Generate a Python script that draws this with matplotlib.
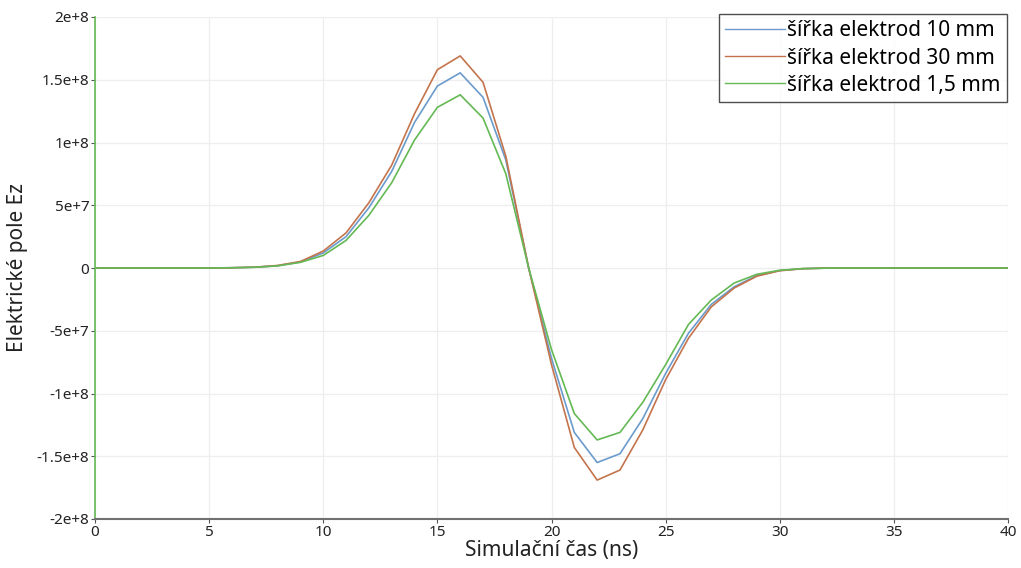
import matplotlib
matplotlib.use("Agg")
import matplotlib.pyplot as plt
import numpy as np

time_ns = list(range(0, 41))
# values in units of 1e8
w10 = [0, 0, 0, 0, 0, 0, 0.002, 0.006, 0.018, 0.048, 0.12, 0.25, 0.48, 0.77, 1.16, 1.45, 1.555, 1.36, 0.86, 0.0,
       -0.72, -1.31, -1.55, -1.48, -1.20, -0.84, -0.52, -0.29, -0.15, -0.06, -0.02, -0.005, -0.001,
       0, 0, 0, 0, 0, 0, 0, 0]
w30 = [0, 0, 0, 0, 0, 0, 0.002, 0.007, 0.02, 0.052, 0.135, 0.28, 0.52, 0.82, 1.23, 1.58, 1.69, 1.48, 0.89, 0.0,
       -0.77, -1.43, -1.69, -1.61, -1.29, -0.89, -0.56, -0.31, -0.16, -0.065, -0.022, -0.006, -0.001,
       0, 0, 0, 0, 0, 0, 0, 0]
w15 = [0, 0, 0, 0, 0, 0, 0.002, 0.006, 0.017, 0.045, 0.10, 0.22, 0.42, 0.68, 1.02, 1.28, 1.38, 1.195, 0.75, 0.0,
       -0.65, -1.16, -1.37, -1.31, -1.07, -0.77, -0.45, -0.255, -0.12, -0.05, -0.018, -0.005, -0.001,
       0, 0, 0, 0, 0, 0, 0, 0]
labels = ["šířka elektrod 10 mm", "šířka elektrod 30 mm", "šířka elektrod 1,5 mm"]
xticks = [0, 5, 10, 15, 20, 25, 30, 35, 40]
yticks = [-2e8, -1.5e8, -1e8, -5e7, 0, 5e7, 1e8, 1.5e8, 2e8]
ytick_labels = ["-2e+8", "-1.5e+8", "-1e+8", "-5e+7", "0", "5e+7", "1e+8", "1.5e+8", "2e+8"]

plt.rcParams['font.family'] = ['Noto Sans', 'DejaVu Sans']

fig = plt.figure(figsize=(10.21, 5.68), dpi=100)
ax = fig.add_axes([95/1021, 1 - 519/568, (1008-95)/1021, (519-17)/568])

colors = ["#6b9bcc", "#c4744c", "#64b954"]
for vals, lab, c in zip([w10, w30, w15], labels, colors):
    ax.plot(time_ns, np.array(vals) * 1e8, color=c, lw=1.2, label=lab)

ax.set_xlim(0, 40)
ax.set_ylim(-2e8, 2e8)
ax.set_xticks(xticks)
ax.set_yticks(yticks)
ax.set_yticklabels(ytick_labels)
ax.grid(True, color="#eeeeee", lw=0.9)
ax.set_axisbelow(True)
for s in ["top", "right"]:
    ax.spines[s].set_visible(False)
ax.spines["left"].set_color("#64b954")
ax.spines["left"].set_linewidth(1.2)
ax.spines["bottom"].set_color("#707070")
ax.spines["bottom"].set_linewidth(1.5)
ax.tick_params(axis="both", labelsize=11, color="#555555", length=3, pad=1, labelcolor="#222222")
ax.set_xlabel("Simulační čas (ns)", fontsize=15, labelpad=0, color="#222222")
ax.set_ylabel("Elektrické pole Ez", fontsize=15, labelpad=6, color="#222222")

leg = ax.legend(loc="upper right", bbox_to_anchor=(1007/1021, 1 - 14/568), bbox_transform=fig.transFigure,
                fontsize=15, frameon=True, fancybox=False, handlelength=2.9, handletextpad=0.1,
                borderpad=0.3, labelspacing=0.3, borderaxespad=0)
leg.get_frame().set_edgecolor("#222222")
leg.get_frame().set_linewidth(1.0)
for l in leg.get_lines():
    l.set_linewidth(1.0)

fig.savefig("out.png", dpi=100)
